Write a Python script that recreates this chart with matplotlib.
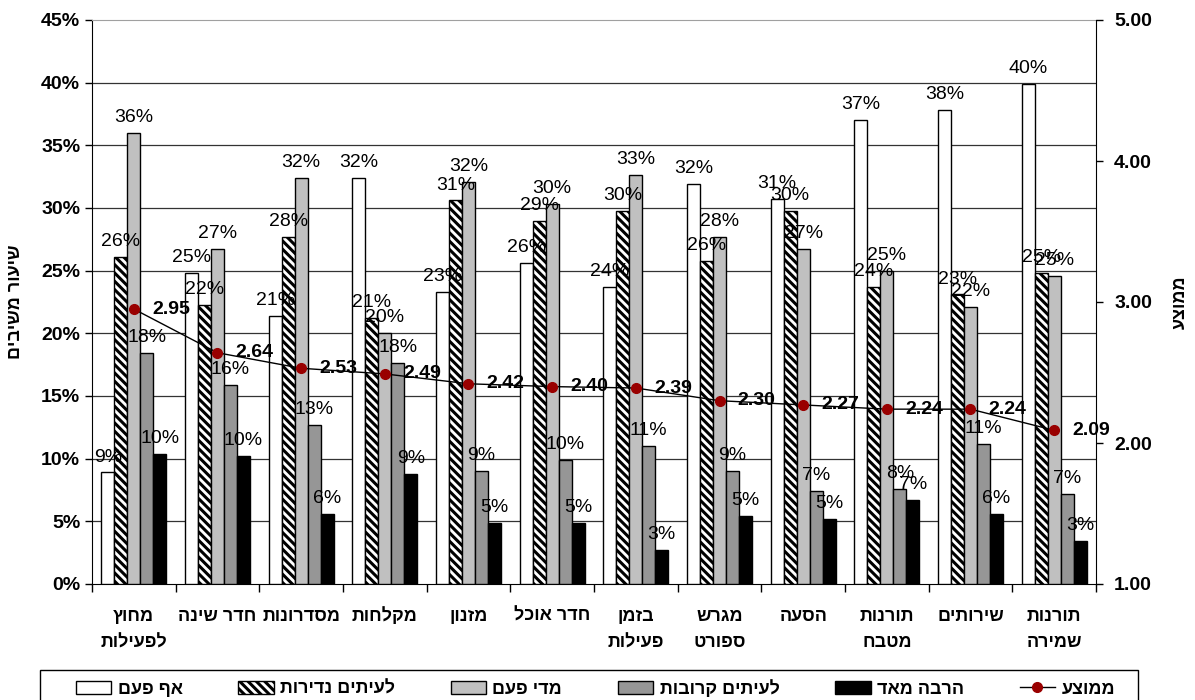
import matplotlib
matplotlib.use('Agg')
import matplotlib.pyplot as plt
import numpy as np
from matplotlib.ticker import FuncFormatter
from matplotlib.patches import Patch, Rectangle
from matplotlib.lines import Line2D

plt.rcParams['font.family'] = ['Liberation Sans', 'DejaVu Sans']
plt.rcParams['hatch.linewidth'] = 2.2

categories = ['מחוץ\nלפעילות', 'חדר שינה', 'מסדרונות', 'מקלחות', 'מזנון', 'חדר אוכל',
              'בזמן\nפעילות', 'מגרש\nספורט', 'הסעה', 'תורנות\nמטבח', 'שירותים', 'תורנות\nשמירה']
series_names = ['אף פעם', 'לעיתים נדירות', 'מדי פעם', 'לעיתים קרובות', 'הרבה מאד']
mean_name = 'ממוצע'
never = [8.9, 24.8, 21.4, 32.4, 23.3, 25.6, 23.7, 31.9, 30.7, 37.0, 37.8, 39.9]
rarely = [26.1, 22.3, 27.7, 21.2, 30.6, 29.0, 29.8, 25.8, 29.8, 23.7, 23.1, 24.8]
sometimes = [36.0, 26.7, 32.4, 20.0, 32.1, 30.3, 32.6, 27.7, 26.7, 25.0, 22.1, 24.6]
often = [18.4, 15.9, 12.7, 17.6, 9.0, 9.9, 11.0, 9.0, 7.4, 7.6, 11.2, 7.2]
very_much = [10.4, 10.2, 5.6, 8.8, 4.9, 4.9, 2.7, 5.4, 5.2, 6.7, 5.6, 3.4]
mean = [2.95, 2.64, 2.53, 2.49, 2.42, 2.40, 2.39, 2.30, 2.27, 2.24, 2.24, 2.09]
left_label = 'שיעור משיבים'
right_label = 'ממוצע'


def vis(s):
    """Visual (LTR) order for Hebrew text, line by line."""
    return '\n'.join(line[::-1] for line in s.split('\n'))


series = [never, rarely, sometimes, often, very_much]
colors = ['white', 'white', '#C0C0C0', '#969696', 'black']
hatches = [None, '\\\\\\\\', None, None, None]

W, H = 1195, 700
fig = plt.figure(figsize=(W / 100, H / 100), dpi=100)
ax = fig.add_axes([92 / W, 116 / H, (1096 - 92) / W, (584 - 20) / H])

x = np.arange(len(categories))
w = 0.155
for k, (vals, c, h) in enumerate(zip(series, colors, hatches)):
    pos = x + (k - 2) * w
    ax.bar(pos, vals, width=w, color=c, edgecolor='black', linewidth=1.0,
           hatch=h, zorder=3)
    for xp, v in zip(pos, vals):
        ax.annotate(f"{v:.0f}%", (xp, v), xytext=(0, 5), textcoords='offset points',
                    ha='center', va='bottom', fontsize=14, zorder=6)

ax.set_xlim(-0.5, len(categories) - 0.5)
ax.set_ylim(0, 45)
ax.set_yticks(np.arange(0, 46, 5))
ax.yaxis.set_major_formatter(FuncFormatter(lambda v, p: f"{v:.0f}%"))
for yv in np.arange(5, 45, 5):
    ax.axhline(yv, color='#333333', linewidth=0.9, zorder=1)
ax.set_xticks(x)
ax.set_xticklabels([vis(c) for c in categories], fontsize=13, fontweight='bold',
                   linespacing=1.75, va='top')
ax.tick_params(axis='x', which='major', length=0, pad=17)
ax.set_xticks(np.arange(-0.5, len(categories), 1), minor=True)
ax.tick_params(axis='x', which='minor', length=6, direction='out', width=1)
ax.tick_params(axis='y', length=5, direction='out', labelsize=14, width=1)
for lab in ax.get_yticklabels():
    lab.set_fontweight('bold')
ax.spines['top'].set_color('#A0A0A0')
ax.spines['right'].set_visible(False)
ax.set_ylabel(vis(left_label), fontsize=13, fontweight='bold', labelpad=12)

ax2 = ax.twinx()
ax2.set_ylim(1, 5)
ax2.set_yticks([1, 2, 3, 4, 5])
ax2.yaxis.set_major_formatter(FuncFormatter(lambda v, p: f"{v:.2f}"))
ax2.tick_params(axis='y', length=5, direction='out', labelsize=14, width=1, pad=8)
for lab in ax2.get_yticklabels():
    lab.set_fontweight('bold')
ax2.spines['top'].set_visible(False)
ax2.spines['left'].set_visible(False)
ax2.spines['bottom'].set_visible(False)
ax2.plot(x, mean, color='black', linewidth=1.0, marker='o', markersize=7,
         markerfacecolor='#990000', markeredgecolor='#990000', zorder=5)
for xp, m in zip(x, mean):
    ax2.annotate(f"{m:.2f}", (xp, m), xytext=(13, 0), textcoords='offset points',
                 ha='left', va='center', fontsize=14, fontweight='bold', zorder=6)
ax2.set_ylabel(vis(right_label), fontsize=13, fontweight='bold', rotation=90,
               labelpad=14)

# legend frame
fig.patches.append(Rectangle((40 / W, -0.05), (1138 - 40) / W, 0.05 + 30 / H,
                             transform=fig.transFigure, facecolor='white',
                             edgecolor='black', linewidth=1.0, zorder=0))

handles = [Patch(facecolor=c, edgecolor='black', hatch=h, linewidth=1.0)
           for c, h in zip(colors, hatches)]
handles.append(Line2D([0], [0], color='black', linewidth=1.0, marker='o',
                      markersize=7, markerfacecolor='#990000',
                      markeredgecolor='#990000'))
labels = [vis(s) for s in series_names] + [vis(mean_name)]
leg = fig.legend(handles, labels, loc='center', ncol=6, mode='expand',
                 bbox_to_anchor=(76 / W, 11 / H - 0.01, (1115 - 76) / W, 0.02),
                 bbox_transform=fig.transFigure, frameon=False,
                 handlelength=1.95, handleheight=0.75, handletextpad=0.35,
                 borderpad=0, borderaxespad=0,
                 prop={'weight': 'bold', 'size': 13})

fig.savefig('out.png', dpi=100)
